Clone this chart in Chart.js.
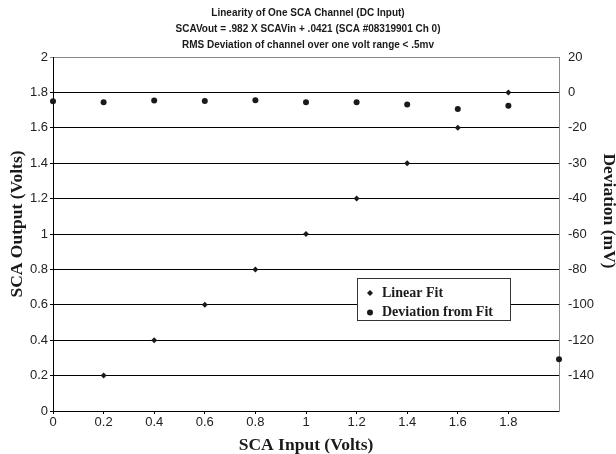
<!DOCTYPE html>
<html>
<head>
<meta charset="utf-8">
<script src="https://cdn.jsdelivr.net/npm/chart.js@4"></script>
<style>
  html, body { margin: 0; padding: 0; background: #fff; }
  #wrap { width: 616px; height: 454px; }
</style>
</head>
<body>
<div id="wrap"><canvas id="myChart" width="616" height="454"></canvas></div>
<script>
const titleLines = [
  "Linearity of One SCA Channel (DC Input)",
  "SCAVout = .982 X SCAVin + .0421 (SCA #08319901 Ch 0)",
  "RMS Deviation of channel over one volt range < .5mv",
];

// linear fit series (left axis, volts)
const fitX = [0.2, 0.4, 0.6, 0.8, 1.0, 1.2, 1.4, 1.6, 1.8];
const fitY = [0.2, 0.4, 0.6, 0.8, 1.0, 1.2, 1.4, 1.6, 1.8];

// deviation series (right axis, mV)
const devX = [0, 0.2, 0.4, 0.6, 0.8, 1.0, 1.2, 1.4, 1.6, 1.8, 2.0];
const devY = [-5.0, -5.6, -4.6, -4.9, -4.5, -5.6, -5.6, -6.9, -9.4, -7.5, -150.8];

// right axis labels, top to bottom (as printed on the original)
const rightTickLabels = ["20", "0", "-20", "-30", "-40", "-60", "-80", "-100", "-120", "-140"];

const legendItems = ["Linear Fit", "Deviation from Fit"];
const leftTitle = "SCA Output (Volts)";
const rightTitle = "Deviation (mV)";

const toPoints = (xs, ys) => xs.map((x, i) => ({ x: x, y: ys[i] }));

const inkColor = "#1a1a1a";
const frameGray = "#8a8a8a";
const sans = "'Liberation Sans', Arial, sans-serif";
const serif = "'Liberation Serif', 'Times New Roman', serif";
const axisTitleFont = "bold 17.5px " + serif;

//******* legend box sitting inside the plot */
const boxLegend = {
  id: "boxLegend",
  afterDatasetsDraw(chart) {
    const ctx = chart.ctx;
    const area = chart.chartArea;
    const bx = area.left + 304;
    const by = area.top + 221;
    const bw = 153;
    const bh = 42;

    ctx.save();
    ctx.fillStyle = "#fff";
    ctx.fillRect(bx, by, bw, bh);
    ctx.strokeStyle = "#333";
    ctx.lineWidth = 1;
    ctx.strokeRect(bx + 0.5, by + 0.5, bw, bh);

    ctx.fillStyle = inkColor;
    // diamond
    const dx = bx + 13, dy1 = by + 15;
    ctx.beginPath();
    ctx.moveTo(dx, dy1 - 3);
    ctx.lineTo(dx + 3, dy1);
    ctx.lineTo(dx, dy1 + 3);
    ctx.lineTo(dx - 3, dy1);
    ctx.closePath();
    ctx.fill();
    // circle
    const dy2 = by + 34.5;
    ctx.beginPath();
    ctx.arc(dx, dy2, 3, 0, Math.PI * 2);
    ctx.fill();

    ctx.font = "bold 14px " + serif;
    ctx.textBaseline = "middle";
    ctx.textAlign = "left";
    ctx.fillText(legendItems[0], bx + 25, dy1);
    ctx.fillText(legendItems[1], bx + 25, dy2);
    ctx.restore();
  },
};

// vertical axis titles (the original sits them a bit above the plot middle)
const sideTitles = {
  id: "sideTitles",
  afterDraw(chart) {
    const ctx = chart.ctx;
    const area = chart.chartArea;
    ctx.save();
    ctx.font = axisTitleFont;
    ctx.fillStyle = inkColor;
    ctx.textAlign = "center";
    ctx.textBaseline = "middle";

    ctx.save();
    ctx.translate(area.left - 35.5, area.top + 167);
    ctx.rotate(-Math.PI / 2);
    ctx.fillText(leftTitle, 0, 0);
    ctx.restore();

    ctx.save();
    ctx.translate(area.right + 50, area.top + 154);
    ctx.rotate(Math.PI / 2);
    ctx.fillText(rightTitle, 0, 0);
    ctx.restore();

    ctx.restore();
  },
};

const ctx = document.getElementById("myChart");

const mychart = new Chart(ctx, {
  type: "scatter",
  data: {
    datasets: [
      {
        label: legendItems[0],
        data: toPoints(fitX, fitY),
        yAxisID: "y",
        pointStyle: "rectRot",
        pointRadius: 3,
        backgroundColor: inkColor,
        borderColor: inkColor,
        borderWidth: 0,
        clip: false,
      },
      {
        label: legendItems[1],
        data: toPoints(devX, devY),
        yAxisID: "y2",
        pointStyle: "circle",
        pointRadius: 3,
        backgroundColor: inkColor,
        borderColor: inkColor,
        borderWidth: 0,
        clip: false,
      },
    ],
  },
  plugins: [boxLegend, sideTitles],
  options: {
    responsive: false,
    animation: false,
    events: [],
    layout: { padding: 0 },
    plugins: {
      legend: { display: false },
      tooltip: { enabled: false },
      title: {
        display: true,
        text: titleLines,
        color: inkColor,
        font: { family: "'Liberation Sans Narrow', 'Arial Narrow', " + sans, size: 10, weight: "bold", lineHeight: 1.6 },
        padding: { top: 5, bottom: 4 },
      },
    },
    scales: {
      x: {
        type: "linear",
        position: "bottom",
        min: 0,
        max: 2,
        afterBuildTicks: (scale) => {
          scale.ticks = scale.ticks.filter((t) => t.value < 1.99);
        },
        afterFit: (scale) => {
          scale.height = 43;
        },
        ticks: {
          stepSize: 0.2,
          color: "#222",
          font: { family: sans, size: 13 },
          padding: 1,
          maxRotation: 0,
          callback: (v) => String(Math.round(v * 10) / 10),
        },
        grid: { drawOnChartArea: false, drawTicks: true, tickLength: 3, color: "#000" },
        border: { color: "#000", width: 1 },
        title: {
          display: true,
          text: "SCA Input (Volts)",
          color: inkColor,
          font: { family: serif, size: 17.5, weight: "bold", lineHeight: 1 },
          padding: { top: 8, bottom: 0 },
        },
      },
      y: {
        type: "linear",
        position: "left",
        min: 0,
        max: 2,
        afterFit: (scale) => {
          scale.width = 53;
        },
        ticks: {
          stepSize: 0.2,
          color: "#222",
          font: { family: sans, size: 13 },
          padding: 2,
          callback: (v) => String(Math.round(v * 10) / 10),
        },
        grid: {
          tickLength: 3,
          color: (c) => (c.tick && c.tick.value > 1.99 ? frameGray : "#000"),
        },
        border: { color: "#000", width: 1 },
      },
      y2: {
        type: "linear",
        position: "right",
        min: -180,
        max: 20,
        afterFit: (scale) => {
          scale.width = 57;
        },
        ticks: {
          stepSize: 20,
          color: "#222",
          font: { family: sans, size: 13 },
          padding: 9,
          callback: (v) => {
            const idx = Math.round((20 - v) / 20);
            return rightTickLabels[idx] || "";
          },
        },
        grid: { display: false, drawOnChartArea: false, drawTicks: false },
        border: { color: frameGray, width: 1 },
      },
    },
  },
});
</script>
</body>
</html>
